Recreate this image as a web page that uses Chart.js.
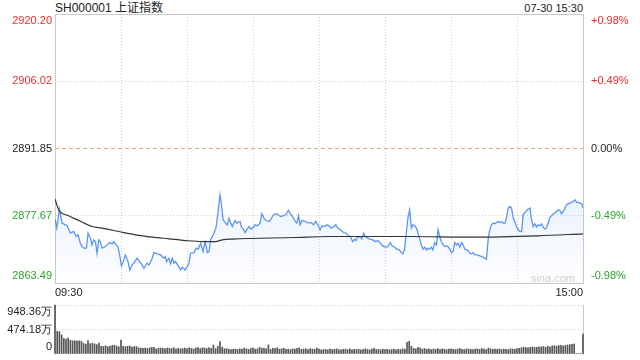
<!DOCTYPE html>
<html>
<head>
<meta charset="utf-8">
<script src="https://cdn.jsdelivr.net/npm/chart.js@4.4.1/dist/chart.umd.min.js"></script>
<style>
    body { margin: 0; background: #fff; width: 640px; height: 360px; overflow: hidden; position: relative; font-family: "Liberation Sans", Arial, sans-serif; }
    canvas { position: absolute; left: 0; }
    #priceCanvas { top: 0; }
    #volCanvas { top: 300px; }
    .label { position: absolute; white-space: nowrap; line-height: 14px; }
    #title { left: 55px; top: 1px; font-size: 12px; color: #222; font-family: "Liberation Sans", "Noto Sans CJK SC", sans-serif; }
    #stamp { right: 57px; top: 1px; font-size: 11px; color: #222; }
    #watermark { left: 531px; top: 271px; font-size: 11px; color: #cfcfcf; }
</style>
</head>
<body>
<div id="title" class="label">SH000001 上证指数</div>
<div id="stamp" class="label">07-30 15:30</div>
<canvas id="priceCanvas" width="640" height="300"></canvas>
<div id="watermark" class="label">sina.com</div>
<canvas id="volCanvas" width="640" height="60"></canvas>
<script>
// Shanghai composite intraday, 07-30
const PREV_CLOSE = 2891.85;
const priceTicks = [2863.49, 2877.67, 2891.85, 2906.02, 2920.20];
const pctLabels = ['-0.98%', '-0.49%', '0.00%', '+0.49%', '+0.98%'];
const volTicks = [0, 474.18, 948.36];
const volLabels = ['0', '474.18万', '948.36万'];
const timeLabels = { 0: '09:30', 240: '15:00' };

// [minute since open, price]
const priceTrace = [
    [0, 2876.97], [0.8, 2875.06], [2.0, 2879.08], [3.2, 2876.12], [4.7, 2875.76], [5.5, 2875.55], [7.0, 2874.01], [8.5, 2874.35], [9.6, 2873.29], [10.5, 2873.65],
    [11.5, 2871.89], [12.3, 2871.17], [13.1, 2870.83], [14.3, 2870.83], [15.0, 2874.01], [16.1, 2872.95], [16.8, 2871.53], [17.6, 2872.59], [18.4, 2872.23], [19.1, 2869.77],
    [19.9, 2872.59], [20.6, 2872.23], [21.4, 2870.83], [22.9, 2871.17], [23.7, 2871.53], [24.7, 2872.02], [26.0, 2871.74], [26.7, 2872.23], [27.8, 2871.53], [28.6, 2871.17],
    [29.5, 2869.06], [30.2, 2867.09], [31.3, 2868.36], [32.0, 2869.41], [33.2, 2868.00], [34.0, 2866.24], [35.1, 2867.30], [36.3, 2868.00], [37.3, 2868.72], [38.4, 2868.00],
    [39.3, 2867.51], [40.4, 2866.60], [41.9, 2867.66], [42.7, 2867.30], [44.2, 2868.72], [44.9, 2869.90], [46.5, 2869.63], [48.0, 2869.41], [49.5, 2868.72], [50.2, 2869.06],
    [50.7, 2868.00], [51.8, 2868.72], [52.5, 2867.51], [53.3, 2868.72], [54.1, 2867.66], [54.8, 2868.00], [56.0, 2867.09], [57.1, 2866.24], [57.8, 2866.81], [59.1, 2866.24],
    [60.1, 2866.94], [60.9, 2867.66], [61.6, 2869.77], [63.2, 2869.90], [64.2, 2870.83], [65.1, 2870.62], [66.2, 2871.89], [67.3, 2870.11], [68.2, 2872.23], [68.8, 2871.17],
    [69.2, 2869.90], [70.0, 2870.11], [70.7, 2872.59], [72.3, 2874.01], [73.3, 2875.40], [74.2, 2878.94], [75.0, 2882.11], [75.6, 2880.35], [76.4, 2876.82], [77.6, 2876.12],
    [78.3, 2875.76], [79.1, 2877.18], [79.6, 2876.46], [80.6, 2875.40], [81.8, 2876.67], [82.6, 2876.12], [84.1, 2876.46], [84.8, 2875.28], [85.6, 2874.85], [86.4, 2874.13],
    [87.1, 2874.70], [88.2, 2875.40], [89.1, 2874.85], [90.2, 2875.28], [90.9, 2875.76], [92.1, 2875.55], [93.2, 2876.12], [94.0, 2878.09], [95.2, 2876.97], [96.2, 2876.67],
    [97.3, 2876.46], [98.2, 2876.97], [99.3, 2877.88], [100.8, 2878.09], [101.9, 2877.67], [102.8, 2877.52], [103.8, 2877.67], [104.9, 2877.88], [106.1, 2878.79], [106.9, 2878.09],
    [107.9, 2877.52], [109.2, 2876.46], [109.9, 2876.12], [110.7, 2877.67], [111.4, 2875.76], [112.2, 2876.67], [113.7, 2876.46], [115.2, 2876.12], [116.4, 2876.25], [117.5, 2875.76],
    [118.5, 2876.46], [119.5, 2875.76], [120.5, 2874.70], [121.3, 2875.55], [122.5, 2875.40], [123.6, 2875.76], [124.6, 2875.55], [125.6, 2875.06], [126.6, 2875.28], [127.6, 2875.76],
    [128.6, 2875.06], [129.7, 2874.70], [131.2, 2874.13], [132.2, 2874.01], [133.4, 2873.44], [134.2, 2873.29], [135.3, 2872.23], [136.2, 2872.74], [136.8, 2872.44], [137.7, 2873.29],
    [138.8, 2873.16], [139.5, 2872.74], [140.3, 2874.01], [141.0, 2873.29], [142.2, 2872.95], [143.3, 2872.74], [144.4, 2872.59], [145.6, 2872.23], [146.8, 2872.44], [147.9, 2871.89],
    [148.9, 2871.32], [150.1, 2871.04], [151.3, 2871.17], [152.4, 2872.02], [153.2, 2871.32], [154.4, 2871.04], [155.4, 2870.62], [156.5, 2870.47], [157.4, 2869.90], [158.0, 2869.63],
    [158.9, 2870.47], [159.5, 2873.29], [160.4, 2877.18], [161.2, 2878.94], [162.0, 2875.06], [162.7, 2875.76], [163.5, 2875.55], [164.3, 2875.06], [165.0, 2874.01], [165.8, 2872.74],
    [166.5, 2871.53], [167.3, 2870.62], [168.0, 2871.04], [168.8, 2870.47], [169.6, 2870.83], [170.3, 2870.62], [171.1, 2871.04], [171.8, 2870.47], [172.6, 2872.02], [173.4, 2871.53],
    [174.1, 2874.70], [174.9, 2873.29], [175.6, 2872.23], [176.4, 2871.53], [177.2, 2871.17], [177.9, 2871.32], [178.7, 2871.17], [179.4, 2870.62], [180.2, 2869.90], [180.9, 2870.11],
    [181.7, 2872.02], [182.5, 2871.53], [183.2, 2871.89], [184.0, 2871.04], [184.8, 2872.02], [185.5, 2871.53], [186.3, 2870.62], [187.0, 2870.47], [187.8, 2870.32], [188.5, 2869.77],
    [189.3, 2869.63], [190.1, 2869.90], [190.8, 2869.41], [192.0, 2869.41], [193.1, 2869.20], [194.1, 2869.06], [195.4, 2868.72], [196.1, 2868.50], [196.9, 2872.74], [197.6, 2874.70],
    [198.4, 2875.76], [199.1, 2876.12], [199.9, 2875.97], [200.7, 2876.25], [201.4, 2876.46], [202.2, 2876.25], [203.0, 2876.40], [203.7, 2876.12], [204.5, 2876.12], [205.2, 2877.18],
    [206.0, 2879.30], [206.8, 2879.63], [207.5, 2879.30], [208.3, 2877.18], [209.0, 2876.46], [209.8, 2875.40], [210.5, 2874.70], [211.3, 2874.35], [212.1, 2874.35], [212.8, 2877.88],
    [213.6, 2878.37], [214.4, 2878.79], [215.1, 2879.08], [215.9, 2879.30], [216.6, 2876.82], [217.4, 2875.40], [218.1, 2875.97], [218.9, 2875.28], [219.6, 2875.76], [220.4, 2875.55],
    [221.2, 2875.97], [221.9, 2875.28], [222.7, 2874.85], [223.5, 2875.28], [224.2, 2876.12], [225.0, 2877.39], [225.7, 2877.67], [226.5, 2878.09], [227.2, 2878.24], [228.0, 2878.58],
    [228.8, 2878.94], [229.5, 2878.79], [230.3, 2878.09], [231.0, 2878.58], [231.8, 2879.30], [232.6, 2879.99], [233.3, 2880.21], [234.1, 2880.35], [234.8, 2880.48], [235.6, 2880.69],
    [236.4, 2881.05], [237.1, 2880.48], [237.9, 2880.48], [238.6, 2880.35], [239.4, 2880.21], [240.0, 2879.30]
];

// [minute since open, average price]
const avgTrace = [
    [0, 2881.20], [1.7, 2878.94], [6.2, 2877.67], [10.8, 2876.67], [16.8, 2875.40], [21.4, 2875.06], [29.0, 2874.35],
    [36.6, 2873.65], [44.2, 2873.16], [51.8, 2872.80], [59.3, 2872.44], [66.9, 2872.23], [73.0, 2872.23], [76.1, 2872.59],
    [80.6, 2872.74], [109.2, 2873.08], [124.3, 2873.29], [160.8, 2873.29], [189.3, 2873.16], [219.6, 2873.44], [240, 2873.86]
];

// volume per minute, in 万
const volumes = [
    948, 440, 430, 370, 300, 290, 310, 265, 255, 255,
    250, 255, 245, 205, 190, 262, 200, 205, 195, 180,
    210, 150, 145, 160, 140, 150, 165, 170, 155, 140,
    270, 150, 140, 150, 155, 135, 140, 145, 120, 115,
    110, 115, 105, 120, 125, 130, 100, 110, 115, 110,
    100, 115, 110, 105, 120, 95, 110, 100, 105, 115,
    105, 120, 110, 95, 115, 125, 105, 120, 115, 105,
    125, 110, 175, 105, 150, 240, 130, 100, 105, 90,
    85, 90, 95, 85, 100, 90, 115, 100, 90, 105,
    120, 95, 100, 130, 110, 115, 100, 175, 90, 110,
    105, 120, 95, 100, 110, 90, 95, 85, 100, 95,
    110, 120, 90, 95, 100, 85, 105, 95, 90, 115,
    95, 80, 85, 90, 80, 95, 85, 90, 100, 85,
    80, 90, 95, 85, 100, 80, 90, 85, 95, 80,
    85, 100, 90, 80, 95, 110, 85, 90, 80, 95,
    85, 90, 80, 85, 95, 80, 90, 85, 100, 95,
    225, 245, 150, 110, 100, 130, 115, 95, 105, 90,
    100, 85, 95, 90, 105, 85, 100, 90, 85, 95,
    100, 90, 85, 95, 105, 90, 85, 100, 95, 90,
    85, 95, 100, 90, 105, 95, 85, 115, 100, 90,
    95, 90, 100, 85, 95, 90, 85, 100, 95, 90,
    105, 110, 120, 130, 125, 120, 130, 135, 125, 130,
    140, 135, 145, 130, 150, 140, 155, 160, 150, 165,
    170, 155, 165, 175, 180, 185, 195, 10, 10, 10, 385
];

const RED = '#ee2b2b';
const GREEN = '#2aa52a';
const DARK = '#222';
const GRID = '#cfcfcf';
const FRAME = '#c8c8c8';
const CLEAR = 'rgba(0,0,0,0)';
const FONT = { family: '"Liberation Sans", Arial, sans-serif', size: 11 };

Chart.defaults.font.family = FONT.family;
Chart.defaults.font.size = FONT.size;

// first label pushed down under the frame top, last one up above the bottom
function edgeLabel(text, index, count) {
    if (index === 0) return [text, ''];
    if (index === count - 1) return ['', text];
    return text;
}

function signColor(diff) {
    if (diff > 0.001) return RED;
    if (diff < -0.001) return GREEN;
    return DARK;
}

// fixed box sizes, no label overflow padding
function fixBox(size) {
    return (scale) => {
        if (scale.isHorizontal()) scale.height = size; else scale.width = size;
        scale.paddingTop = 0;
        scale.paddingBottom = 0;
        scale.paddingLeft = 0;
        scale.paddingRight = 0;
    };
}

const pctTicks = priceTicks.map(p => (p - PREV_CLOSE) / PREV_CLOSE * 100);

const priceChart = new Chart(document.getElementById('priceCanvas'), {
    type: 'line',
    data: {
        datasets: [{
            label: '均价',
            data: avgTrace.map(([x, y]) => ({ x, y })),
            borderColor: '#333',
            borderWidth: 1.2,
            pointRadius: 0,
            cubicInterpolationMode: 'monotone',
            fill: false,
            yAxisID: 'y'
        }, {
            label: '价格',
            data: priceTrace.map(([x, y]) => ({ x, y })),
            borderColor: '#5b95f2',
            borderWidth: 1.3,
            pointRadius: 0,
            tension: 0,
            fill: 'start',
            backgroundColor: (context) => {
                const { ctx, chartArea } = context.chart;
                if (!chartArea) return 'rgba(91,149,242,0.08)';
                const g = ctx.createLinearGradient(0, chartArea.top + 170, 0, chartArea.bottom);
                g.addColorStop(0, 'rgba(91,149,242,0.13)');
                g.addColorStop(1, 'rgba(91,149,242,0.01)');
                return g;
            },
            yAxisID: 'y'
        }]
    },
    options: {
        responsive: false,
        animation: false,
        events: [],
        layout: { padding: { top: 14, left: 0, right: 0, bottom: 0 }, autoPadding: false },
        plugins: { legend: { display: false }, tooltip: { enabled: false } },
        scales: {
            x: {
                type: 'linear',
                min: 0,
                max: 240,
                offset: false,
                position: 'bottom',
                afterFit: fixBox(17),
                ticks: {
                    stepSize: 30,
                    autoSkip: false,
                    maxRotation: 0,
                    align: 'inner',
                    padding: 3,
                    color: DARK,
                    callback: (value) => timeLabels[value] || ''
                },
                grid: {
                    drawTicks: false,
                    color: (ctx) => (ctx.index > 0 && ctx.index < 8) ? GRID : CLEAR
                },
                border: { display: true, color: FRAME, dash: [1, 2] }
            },
            xTop: {
                type: 'linear',
                min: 0,
                max: 240,
                position: 'top',
                afterFit: fixBox(0),
                ticks: { display: false },
                grid: { display: false, drawTicks: false },
                border: { display: true, color: FRAME }
            },
            y: {
                type: 'linear',
                position: 'left',
                min: priceTicks[0],
                max: priceTicks[priceTicks.length - 1],
                afterFit: fixBox(55),
                afterBuildTicks: (scale) => { scale.ticks = priceTicks.map(v => ({ value: v })); },
                ticks: {
                    autoSkip: false,
                    padding: 3,
                    color: (ctx) => signColor(ctx.tick.value - PREV_CLOSE),
                    callback: (value, index, ticks) => edgeLabel(value.toFixed(2), index, ticks.length)
                },
                grid: {
                    drawTicks: false,
                    color: (ctx) => (ctx.index === 1 || ctx.index === 3) ? GRID : CLEAR
                },
                border: { display: true, color: FRAME, dash: [1, 2] }
            },
            y1: {
                type: 'linear',
                position: 'right',
                min: pctTicks[0],
                max: pctTicks[pctTicks.length - 1],
                afterFit: fixBox(57),
                afterBuildTicks: (scale) => { scale.ticks = pctTicks.map(v => ({ value: v })); },
                ticks: {
                    autoSkip: false,
                    padding: 8,
                    color: (ctx) => signColor(ctx.tick.value),
                    callback: (value, index, ticks) => edgeLabel(pctLabels[index], index, ticks.length)
                },
                grid: {
                    drawTicks: false,
                    color: (ctx) => ctx.index === 2 ? '#f4a56c' : CLEAR
                },
                border: { display: true, color: FRAME, dash: [4, 3] }
            }
        }
    }
});

const volChart = new Chart(document.getElementById('volCanvas'), {
    type: 'bar',
    data: {
        datasets: [{
            label: '成交量',
            data: volumes.map((v, i) => ({ x: i, y: v })),
            backgroundColor: '#555',
            barThickness: 1,
            clip: false
        }]
    },
    options: {
        responsive: false,
        animation: false,
        events: [],
        layout: { padding: { top: 5, left: 0, right: 0, bottom: 6 }, autoPadding: false },
        plugins: { legend: { display: false }, tooltip: { enabled: false } },
        scales: {
            x: {
                type: 'linear',
                min: 0,
                max: 240,
                offset: false,
                grid: { offset: false },
                display: false
            },
            y: {
                type: 'linear',
                position: 'left',
                min: volTicks[0],
                max: volTicks[volTicks.length - 1],
                afterFit: fixBox(55),
                afterBuildTicks: (scale) => { scale.ticks = volTicks.map(v => ({ value: v })); },
                ticks: {
                    autoSkip: false,
                    padding: 3,
                    color: DARK,
                    callback: (value, index, ticks) => edgeLabel(volLabels[index], index, ticks.length)
                },
                grid: {
                    drawTicks: false,
                    color: (ctx) => ctx.index > 0 ? GRID : CLEAR
                },
                border: { display: true, color: FRAME, dash: [1, 2] }
            },
            yr: {
                type: 'linear',
                position: 'right',
                min: 0,
                max: 1,
                afterFit: fixBox(57),
                ticks: { display: false },
                grid: { display: false, drawTicks: false },
                border: { display: true, color: FRAME }
            }
        }
    }
});
</script>
</body>
</html>
